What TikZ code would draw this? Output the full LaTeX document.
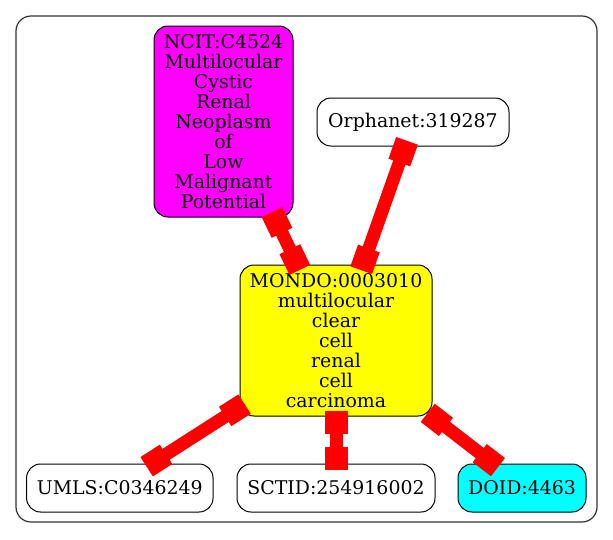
\documentclass[tikz,border=0pt]{standalone}
\usepackage{fontspec}
\setmainfont{DejaVu Serif}
\usetikzlibrary{calc}
\definecolor{nmag}{HTML}{FF00FF}
\definecolor{nyel}{HTML}{FFFF00}
\definecolor{ncya}{HTML}{00FFFF}
\definecolor{ered}{HTML}{FF0000}
\tikzset{
  termbox/.style={draw=black, line width=1pt, rounded corners=14pt, inner sep=0pt,
    align=center, font=\fontsize{18.9}{20}\selectfont},
  linkline/.style={draw=ered, line width=13pt},
  tipsq/.style={draw=ered, line width=23pt},
  frame/.style={draw=black!80, line width=1.2pt, rounded corners=15pt},
}
\newcommand\bothbox[2]{%
  \draw[linkline] (#1) -- (#2);
  \draw[tipsq] ($(#1)!-6pt!(#2)$) -- ($(#1)!17pt!(#2)$);
  \draw[tipsq] ($(#2)!-6pt!(#1)$) -- ($(#2)!17pt!(#1)$);
}
\begin{document}
\begin{tikzpicture}[x=1pt,y=-1pt]
\useasboundingbox (0,0) rectangle (613,539);
\fill[white] (0,0) rectangle (613,539);
\draw[frame] (16,16) rectangle (597,522);

\node[termbox, fill=nmag, minimum width=139pt, minimum height=191pt] (ncit) at (223.5,121.5)
  {NCIT:C4524\\Multilocular\\Cystic\\Renal\\Neoplasm\\of\\Low\\Malignant\\Potential};
\node[termbox, fill=white, minimum width=192pt, minimum height=48pt] (orph) at (413,122)
  {Orphanet:319287};
\node[termbox, fill=nyel, minimum width=192pt, minimum height=151pt] (mondo) at (336,340.5)
  {MONDO:0003010\\multilocular\\clear\\cell\\renal\\cell\\carcinoma};
\node[termbox, fill=white, minimum width=186.4pt, minimum height=48pt] (umls) at (119.8,488)
  {UMLS:C0346249};
\node[termbox, fill=white, minimum width=198pt, minimum height=48pt] (sctid) at (336,488)
  {SCTID:254916002};
\node[termbox, fill=ncya, minimum width=128pt, minimum height=48pt] (doid) at (522,488)
  {DOID:4463};

\coordinate (e1a) at ([xshift=51.1pt]ncit.south);
\coordinate (e1b) at ([xshift=-38.8pt]mondo.north);
\coordinate (e2a) at ([xshift=-8pt]orph.south);
\coordinate (e2b) at ([xshift=27.2pt]mondo.north);
\coordinate (e3a) at ([yshift=9.2pt]mondo.south west);
\coordinate (e3b) at ([xshift=31.9pt]umls.north);
\coordinate (e4a) at (mondo.south);
\coordinate (e4b) at (sctid.north);
\coordinate (e5a) at (mondo.south east);
\coordinate (e5b) at ([xshift=-28.8pt]doid.north);

\bothbox{e1a}{e1b}
\bothbox{e2a}{e2b}
\bothbox{e3a}{e3b}
\bothbox{e4a}{e4b}
\bothbox{e5a}{e5b}
\end{tikzpicture}
\end{document}
